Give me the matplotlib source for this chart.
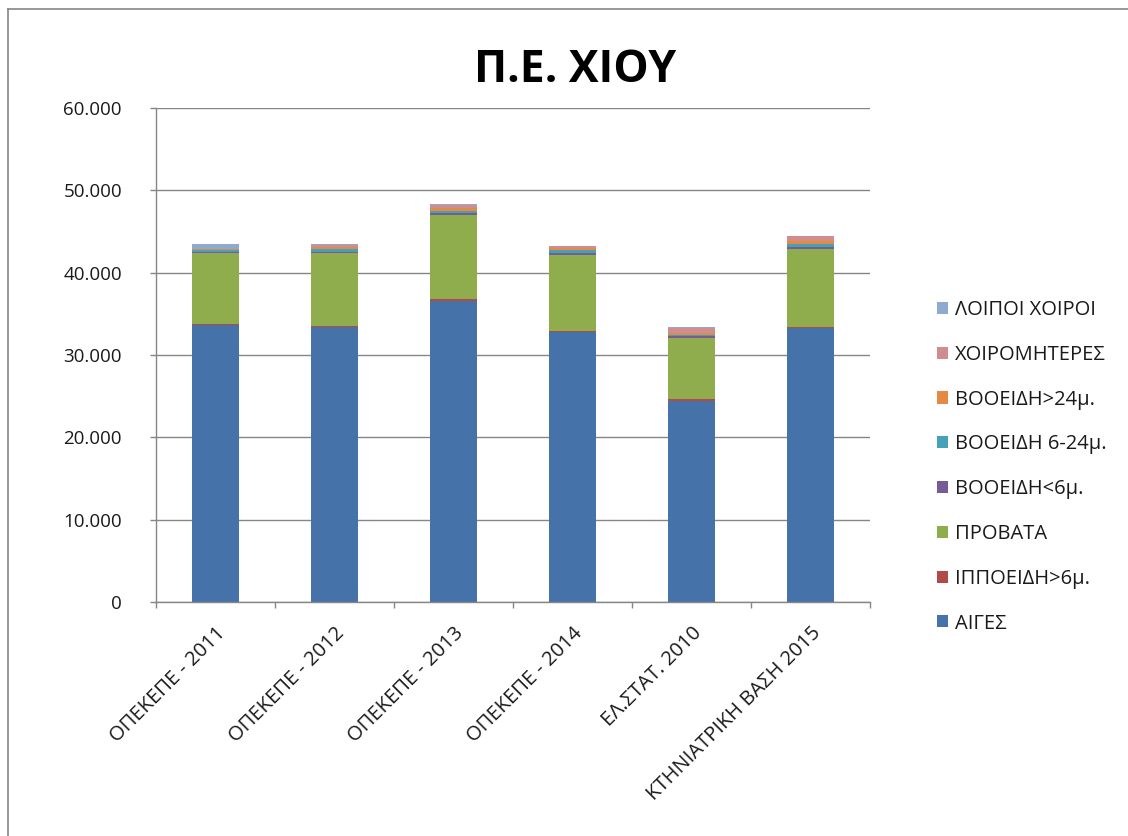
import matplotlib
matplotlib.use("Agg")
import matplotlib.pyplot as plt
from matplotlib.ticker import FuncFormatter, FixedLocator, NullFormatter
from matplotlib.lines import Line2D
from matplotlib.patches import Patch
import numpy as np

plt.rcParams['font.family'] = ['Open Sans', 'DejaVu Sans']

categories = ["ΟΠΕΚΕΠΕ - 2011", "ΟΠΕΚΕΠΕ - 2012", "ΟΠΕΚΕΠΕ - 2013",
              "ΟΠΕΚΕΠΕ - 2014", "ΕΛ.ΣΤΑΤ. 2010", "ΚΤΗΝΙΑΤΡΙΚΗ ΒΑΣΗ 2015"]

series_names = ["ΑΙΓΕΣ", "ΙΠΠΟΕΙΔΗ>6μ.", "ΠΡΟΒΑΤΑ", "ΒΟΟΕΙΔΗ<6μ.",
                "ΒΟΟΕΙΔΗ 6-24μ.", "ΒΟΟΕΙΔΗ>24μ.", "ΧΟΙΡΟΜΗΤΕΡΕΣ", "ΛΟΙΠΟΙ ΧΟΙΡΟΙ"]

aiges        = [33600, 33400, 36600, 32800, 24400, 33300]
ippoeidi     = [150, 150, 200, 150, 300, 100]
provata      = [8600, 8800, 10200, 9250, 7400, 9500]
vooeidi_6    = [100, 200, 200, 200, 200, 200]
vooeidi_6_24 = [300, 300, 300, 400, 100, 400]
vooeidi_24   = [100, 250, 300, 200, 300, 400]
xoiromitires = [50, 300, 400, 200, 600, 500]
loipoi       = [550, 100, 100, 50, 100, 50]

series_values = [aiges, ippoeidi, provata, vooeidi_6, vooeidi_6_24,
                 vooeidi_24, xoiromitires, loipoi]
colors = ["#4672AA", "#B24B48", "#8FAD4D", "#765C97", "#45A0B8",
          "#E48A42", "#D08C8E", "#8EAAD0"]

y_ticks = [0, 10000, 20000, 30000, 40000, 50000, 60000]

fig = plt.figure(figsize=(11.28, 8.36), dpi=100)
ax = fig.add_axes([156/1128, 1-602/836, (870-156)/1128, (602-108)/836])

x = np.arange(len(categories))
bottom = np.zeros(len(categories))
for name, vals, c in zip(series_names, series_values, colors):
    ax.bar(x, vals, width=0.4, bottom=bottom, color=c, label=name, linewidth=0, zorder=3)
    bottom += np.array(vals)

ax.set_xlim(-0.5, len(categories) - 0.5)
ax.set_ylim(0, 60000)
ax.set_yticks(y_ticks)
ax.yaxis.set_major_formatter(FuncFormatter(lambda v, p: f"{int(v):,}".replace(",", ".")))
ax.grid(axis='y', color='#868686', linewidth=1.0, zorder=0)

# category boundary ticks
ax.set_xticks(x)
ax.set_xticklabels(categories, rotation=45, ha='right', rotation_mode='anchor',
                   fontsize=14.5, color='#1a1a1a')
ax.tick_params(axis='x', length=0, pad=15)
ax.xaxis.set_minor_locator(FixedLocator(np.arange(-0.5, len(categories), 1.0)))
ax.xaxis.set_minor_formatter(NullFormatter())
ax.tick_params(axis='x', which='minor', length=4.5, color='#868686', width=1)
ax.tick_params(axis='y', length=4.5, color='#868686', width=1, labelsize=13.5,
               pad=20, labelcolor='#1a1a1a')

for s in ['top', 'right']:
    ax.spines[s].set_visible(False)
for s in ['left', 'bottom']:
    ax.spines[s].set_color('#868686')
    ax.spines[s].set_linewidth(1.0)
    ax.spines[s].set_zorder(4)

fig.text(575/1128, 1-70/836, "Π.Ε. ΧΙΟΥ", fontsize=32, fontweight='bold',
         ha='center', va='center')

handles = [Patch(facecolor=c, edgecolor='none') for c in colors]
leg = fig.legend(handles[::-1], series_names[::-1], loc='upper left',
                 bbox_to_anchor=(919/1128, 1-282/836), frameon=False,
                 fontsize=14.5, handlelength=0.55, handleheight=0.55,
                 handletextpad=0.35, labelspacing=1.23)
for t in leg.get_texts():
    t.set_color('#1a1a1a')

# outer chart border (left and top visible)
fig.add_artist(Line2D([8/1128, 8/1128], [0, 1-9/836], transform=fig.transFigure,
                      color='#868686', linewidth=1.2))
fig.add_artist(Line2D([8/1128, 1], [1-9/836, 1-9/836], transform=fig.transFigure,
                      color='#868686', linewidth=1.2))

fig.savefig("out.png", dpi=100)
